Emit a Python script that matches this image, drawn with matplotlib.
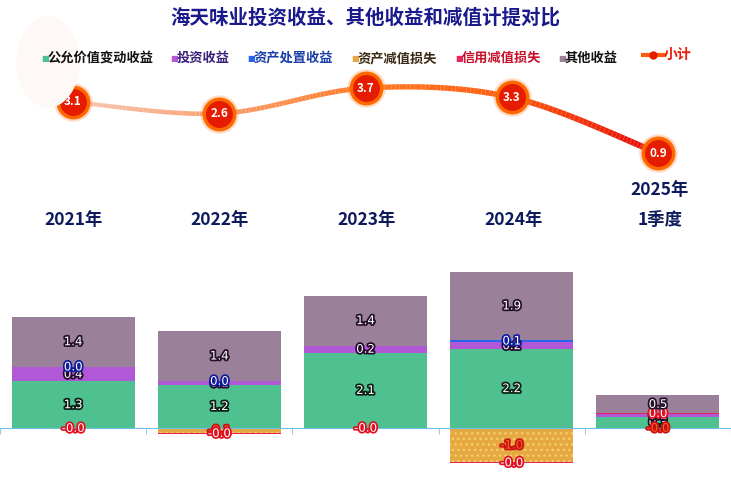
import matplotlib
matplotlib.use('Agg')
import matplotlib.pyplot as plt
import matplotlib.patheffects as pe
from matplotlib.collections import LineCollection
from matplotlib.colors import LinearSegmentedColormap
from matplotlib.patches import Ellipse
import numpy as np

plt.rcParams['font.family'] = ['Noto Sans CJK SC', 'DejaVu Sans']
plt.rcParams['axes.unicode_minus'] = False
plt.rcParams['hatch.linewidth'] = 1.0

# 数据（亿元）
categories = ['2021年', '2022年', '2023年', '2024年', '2025年\n1季度']
fair_value = [1.3, 1.2, 2.1, 2.2, 0.3]
investment = [0.4, 0.1, 0.2, 0.2, 0.1]
disposal = [0.01, 0.01, 0.0, 0.06, 0.0]
asset_imp = [0.0, -0.14, 0.0, -0.96, -0.01]
credit_imp = [-0.02, -0.03, -0.01, -0.02, 0.01]
other = [1.4, 1.4, 1.4, 1.9, 0.5]
subtotal = [3.1, 2.6, 3.7, 3.3, 0.9]

series_names = ['公允价值变动收益', '投资收益', '资产处置收益', '资产减值损失', '信用减值损失', '其他收益']
series_vals = [fair_value, investment, disposal, asset_imp, credit_imp, other]
series_colors = ['#4fc08f', '#b058d6', '#2a63ee', '#e6a840', '#e8245a', '#9a8098']
legend_txt_colors = ['#111111', '#3a1f7a', '#1a3fa8', '#3a2a12', '#c8102a', '#111111']
lab_fill = ['white', 'white', 'white', '#ff5a2a', 'white', 'white']
lab_stroke = ['#0b1f14', '#24082e', '#101c9a', '#c81010', '#e01020', '#241028']

W, H = 731, 500
fig = plt.figure(figsize=(W / 100, H / 100), dpi=100)

def fy(px):
    return 1 - px / H

# 左上角淡色装饰
fig.patches.append(Ellipse((48 / W, fy(62)), 62 / W, 90 / H, transform=fig.transFigure,
                           color='#fef8f6', zorder=0))

# 标题
fig.text(0.5, fy(18), '海天味业投资收益、其他收益和减值计提对比', ha='center', va='center',
         fontsize=14, fontweight='heavy', color='#1a1a8c')

# 图例
legend_x = [41, 170, 247, 351, 455, 558]
for i, name in enumerate(series_names):
    fig.text(legend_x[i] / W, fy(58), '■', fontsize=6, color=series_colors[i],
             ha='left', va='center', family='DejaVu Sans')
    fig.text((legend_x[i] + 7) / W, fy(58), name, fontsize=9.5, fontweight='bold',
             color=legend_txt_colors[i], ha='left', va='center')
fig.lines.append(plt.Line2D([643 / W, 664 / W], [fy(55), fy(55)], transform=fig.transFigure,
                            color='#ff5a10', lw=3))
fig.lines.append(plt.Line2D([653 / W], [fy(55)], transform=fig.transFigure, marker='o',
                            ms=5, color='#e51c00'))
fig.text(664 / W, fy(55), '小计', fontsize=10, fontweight='bold', color='#e8200a',
         ha='left', va='center')

x = np.arange(len(categories))

# 折线（小计）
ax_l = fig.add_axes([0, fy(240), 1.0, 180 / H])
ax_l.set_xlim(-0.5, 4.5)
ax_l.set_ylim(-2.85, 4.91)
ax_l.axis('off')

# Catmull-Rom 平滑
pts = np.column_stack([x, subtotal]).astype(float)
ext = np.vstack([pts[0], pts, pts[-1]])
curve = []
for i in range(len(pts) - 1):
    p0, p1, p2, p3 = ext[i], ext[i + 1], ext[i + 2], ext[i + 3]
    t = np.linspace(0, 1, 40)[:, None]
    c = 0.5 * ((2 * p1) + (-p0 + p2) * t + (2 * p0 - 5 * p1 + 4 * p2 - p3) * t ** 2
               + (-p0 + 3 * p1 - 3 * p2 + p3) * t ** 3)
    curve.append(c if i == 0 else c[1:])
curve = np.vstack(curve)
segs = np.stack([curve[:-1], curve[1:]], axis=1)
cmap = LinearSegmentedColormap.from_list('g', ['#f9c6b0', '#f9a070', '#ff7a22', '#ff5a10', '#e40a0a'])
lc = LineCollection(segs, cmap=cmap, linewidths=np.linspace(3, 4.5, len(segs)))
lc.set_array(curve[:-1, 0] / 4)
lc.set_clim(0, 1)
ax_l.add_collection(lc)
ax_l.scatter(x, subtotal, s=760, color='#ff8a40', alpha=0.3, zorder=3, lw=0)
ax_l.scatter(x, subtotal, s=480, facecolor='#e51c00', edgecolor='#ff6a00', lw=2.5, zorder=4)
for xi, v in zip(x, subtotal):
    ax_l.text(xi, v, f'{v:.1f}', ha='center', va='center', color='white',
              fontsize=8.5, fontweight='bold', zorder=5)

# 类别标签
for xi, cat in zip(x, categories):
    lines = cat.split('\n')
    for k, ln in enumerate(reversed(lines)):
        fig.text((xi + 0.5) / 5 * 733 / W, fy(220 - 30 * k), ln, ha='center', va='center',
                 fontsize=12.5, fontweight='bold', color='#0d1a5c')

# 堆叠柱状图
ax_b = fig.add_axes([0, fy(495), 1.0, 255 / H])
ax_b.set_xlim(-0.5, 4.5)
ax_b.set_ylim(-(495 - 428) / 35.8, (428 - 240) / 35.8)
pos_b = np.zeros(len(x))
neg_b = np.zeros(len(x))
for i, vals in enumerate(series_vals):
    vals = np.array(vals, dtype=float)
    bottoms = np.where(vals >= 0, pos_b, neg_b)
    hatch = '...' if i == 3 else None
    ax_b.bar(x, vals, width=0.84, bottom=bottoms, color=series_colors[i], zorder=2,
             hatch=hatch, edgecolor='#f5cf70' if i == 3 else series_colors[i], lw=0)
    for xi, v, b in zip(x, vals, bottoms):
        if v == 0:
            continue
        ax_b.text(xi, b + v / 2, f'{v:.1f}', ha='center', va='center', fontsize=8.5,
                  color=lab_fill[i], zorder=5, family='DejaVu Sans',
                  path_effects=[pe.withStroke(linewidth=2.5, foreground=lab_stroke[i])])
    pos_b = np.where(vals >= 0, pos_b + vals, pos_b)
    neg_b = np.where(vals < 0, neg_b + vals, neg_b)

for s in ['top', 'right', 'left']:
    ax_b.spines[s].set_visible(False)
ax_b.spines['bottom'].set_position(('data', 0))
ax_b.spines['bottom'].set_color('#6ec0ec')
ax_b.spines['bottom'].set_zorder(3)
ax_b.set_yticks([])
ax_b.set_xticks(np.arange(-0.5, 5, 1))
ax_b.tick_params(axis='x', length=4, color='#9ccbe8', labelbottom=False)
ax_b.patch.set_alpha(0)

fig.savefig('out.png', dpi=100)
